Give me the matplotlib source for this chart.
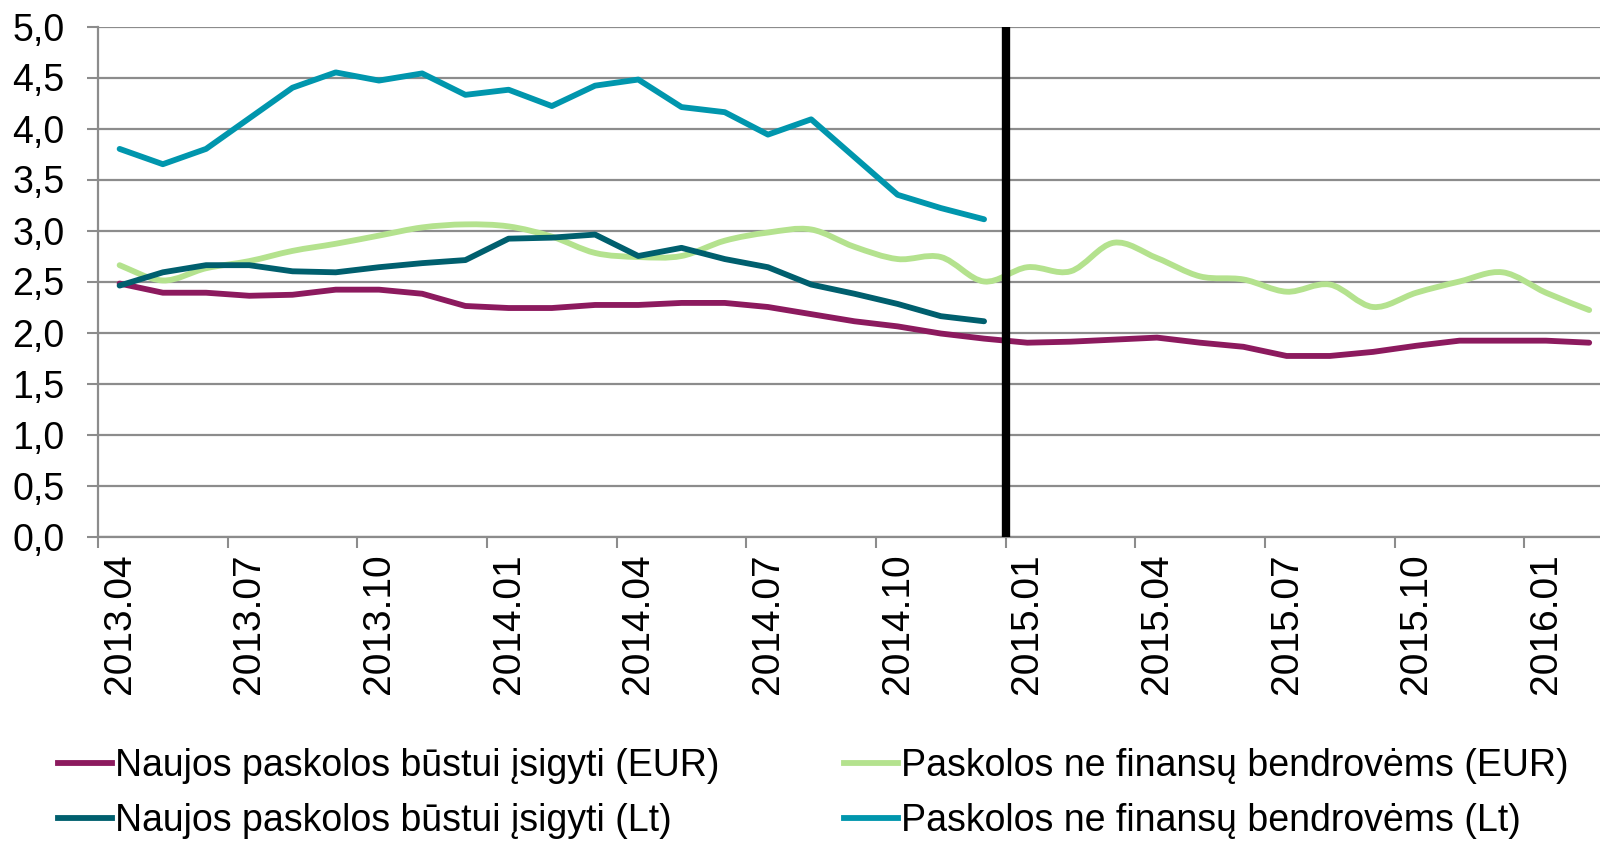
import numpy as np
import matplotlib
matplotlib.use('Agg')
import matplotlib.pyplot as plt
from matplotlib.path import Path
from matplotlib.patches import PathPatch
from matplotlib.lines import Line2D

plt.rcParams['font.family'] = ['Liberation Sans', 'DejaVu Sans']

# ---- data ----
tick_labels = ["2013.04", "2013.07", "2013.10", "2014.01", "2014.04", "2014.07",
               "2014.10", "2015.01", "2015.04", "2015.07", "2015.10", "2016.01"]
n_months = 35  # 2013.04 ... 2016.02

eur_housing = [2.48, 2.39, 2.39, 2.36, 2.37, 2.42, 2.42, 2.38, 2.26, 2.24,
               2.24, 2.27, 2.27, 2.29, 2.29, 2.25, 2.18, 2.11, 2.06, 1.99,
               1.94, 1.90, 1.91, 1.93, 1.95, 1.90, 1.86, 1.77, 1.77, 1.81,
               1.87, 1.92, 1.92, 1.92, 1.90]
eur_nonfin = [2.66, 2.51, 2.63, 2.70, 2.80, 2.87, 2.95, 3.03, 3.06, 3.04,
              2.94, 2.78, 2.74, 2.75, 2.90, 2.98, 3.01, 2.84, 2.72, 2.74,
              2.50, 2.64, 2.60, 2.88, 2.73, 2.55, 2.52, 2.40, 2.47, 2.25,
              2.39, 2.50, 2.59, 2.39, 2.22]
lt_housing = [2.46, 2.59, 2.66, 2.66, 2.60, 2.59, 2.64, 2.68, 2.71, 2.92,
              2.93, 2.96, 2.75, 2.83, 2.72, 2.64, 2.47, 2.38, 2.28, 2.16,
              2.11]
lt_nonfin = [3.80, 3.65, 3.80, 4.10, 4.40, 4.55, 4.47, 4.54, 4.33, 4.38,
             4.22, 4.42, 4.48, 4.21, 4.16, 3.94, 4.09, 3.72, 3.35, 3.22,
             3.11]

labels = ["Naujos paskolos būstui įsigyti (EUR)",
          "Paskolos ne finansų bendrovėms (EUR)",
          "Naujos paskolos būstui įsigyti (Lt)",
          "Paskolos ne finansų bendrovėms (Lt)"]

c_purple = '#8C1A5E'
c_green = '#B4E28E'
c_dteal = '#005F6E'
c_teal = '#0096AD'
c_grid = '#8C8C8C'

LW = 4.2
FS = 27
FSX = 28

fig = plt.figure(figsize=(16, 8.41), dpi=100)
ax = fig.add_axes([98 / 1600, 1 - 536.5 / 841, 1 - 98 / 1600, (536.5 - 26.5) / 841])


def smooth_path(xs, ys):
    xs = np.asarray(xs, float)
    ys = np.asarray(ys, float)
    m = len(xs)
    verts = [(xs[0], ys[0])]
    codes = [Path.MOVETO]
    for i in range(m - 1):
        p0 = i - 1 if i > 0 else i
        p3 = i + 2 if i + 2 < m else i + 1
        c1 = (xs[i] + (xs[i + 1] - xs[p0]) / 6, ys[i] + (ys[i + 1] - ys[p0]) / 6)
        c2 = (xs[i + 1] - (xs[p3] - xs[i]) / 6, ys[i + 1] - (ys[p3] - ys[i]) / 6)
        verts += [c1, c2, (xs[i + 1], ys[i + 1])]
        codes += [Path.CURVE4] * 3
    return Path(verts, codes)


x_all = np.arange(len(eur_housing))
x_lt = np.arange(len(lt_housing))

ax.plot(x_all, eur_housing, color=c_purple, lw=LW, solid_capstyle='round',
        solid_joinstyle='round', zorder=3)
ax.add_patch(PathPatch(smooth_path(np.arange(len(eur_nonfin)), eur_nonfin),
                       fill=False, edgecolor=c_green, lw=LW, capstyle='round',
                       joinstyle='round', zorder=3.1))
ax.plot(x_lt, lt_housing, color=c_dteal, lw=LW, solid_capstyle='round',
        solid_joinstyle='round', zorder=3.2)
ax.plot(np.arange(len(lt_nonfin)), lt_nonfin, color=c_teal, lw=LW,
        solid_capstyle='round', solid_joinstyle='round', zorder=3.3)

# euro changeover line
ax.axvline(20.5, ymin=0, ymax=1, color='black', lw=6, zorder=4)

ax.set_xlim(-0.5, 34.25)
ax.set_ylim(0, 5)

ax.set_xticks(np.arange(0, n_months, 3))
ax.set_xticklabels(tick_labels, rotation=90, fontsize=FSX, va='top', ha='center')
ax.set_xticks(np.arange(-0.5, n_months, 3), minor=True)
ax.tick_params(axis='x', which='major', length=0, pad=12)
ax.tick_params(axis='x', which='minor', length=7.7, width=1.5, color=c_grid)

yt = np.arange(0, 5.01, 0.5)
ax.set_yticks(yt)
ax.set_yticklabels([f"{v:.1f}".replace('.', ',') for v in yt], fontsize=FS)
ax.tick_params(axis='y', length=8, width=1.5, color=c_grid, pad=16)

ax.yaxis.grid(True, color=c_grid, lw=1.6)
ax.set_axisbelow(True)
for s in ['top', 'right']:
    ax.spines[s].set_visible(False)
for s in ['left', 'bottom']:
    ax.spines[s].set_color(c_grid)
    ax.spines[s].set_linewidth(1.6)

handles = [Line2D([], [], color=c, lw=LW) for c in (c_purple, c_dteal, c_green, c_teal)]
leg_labels = [labels[0], labels[2], labels[1], labels[3]]
fig.legend(handles, leg_labels, ncol=2, loc='upper left',
           bbox_to_anchor=(58 / 1600, 1 - 748 / 841), frameon=False,
           fontsize=FS, handlelength=1.45, handletextpad=0.08,
           columnspacing=3.3, labelspacing=0.5, borderpad=0, borderaxespad=0)

fig.savefig('out.png', dpi=100)
